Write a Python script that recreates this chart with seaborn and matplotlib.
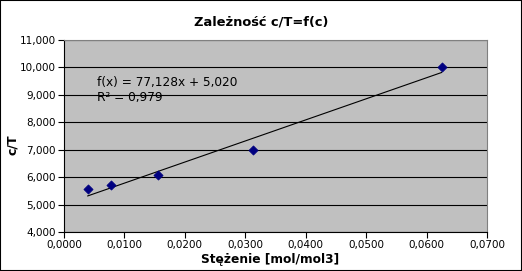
import numpy as np
import pandas as pd
import matplotlib
matplotlib.use("Agg")
import matplotlib.pyplot as plt
import seaborn as sns
from matplotlib.ticker import FuncFormatter, MultipleLocator

conc = [0.0039, 0.0078, 0.0156, 0.03125, 0.0625]
ratio = [5.55, 5.71, 6.08, 7.00, 10.03]
title = "Zależność c/T=f(c)"
xlabel = "Stężenie [mol/mol3]"
ylabel = "c/T"
eq_text = "f(x) = 77,128x + 5,020\nR² = 0,979"

df = pd.DataFrame({"c": conc, "cT": ratio})

sns.set_style("white")
plt.rcParams['font.family'] = ['DejaVu Sans']
plt.rcParams['text.color'] = 'black'
plt.rcParams['axes.labelcolor'] = 'black'
plt.rcParams['xtick.color'] = 'black'
plt.rcParams['ytick.color'] = 'black'

fig = plt.figure(figsize=(5.22, 2.71), dpi=100)
ax = fig.add_axes([64/522, 1 - 232/271, (487-64)/522, (232-40)/271])
ax.set_facecolor("#C0C0C0")

# trend line
k, b = np.polyfit(df["c"], df["cT"], 1)
xs = np.array([min(conc), max(conc)])
ax.plot(xs, k*xs + b, color="black", lw=0.8, zorder=3)

sns.scatterplot(data=df, x="c", y="cT", ax=ax, marker="D", s=22,
                color="#000080", edgecolor="#000080", linewidth=0.5, zorder=4)

ax.set_xlim(0, 0.07)
ax.set_ylim(4, 11)
ax.xaxis.set_major_locator(MultipleLocator(0.01))
ax.yaxis.set_major_locator(MultipleLocator(1))
ax.xaxis.set_major_formatter(FuncFormatter(lambda v, p: f"{v:.4f}".replace(".", ",")))
ax.yaxis.set_major_formatter(FuncFormatter(lambda v, p: f"{v:.3f}".replace(".", ",")))
ax.grid(axis="y", color="black", lw=0.8, zorder=1)
ax.set_axisbelow(True)
ax.tick_params(axis="both", labelsize=7.5, length=4, width=0.8, direction="out",
               bottom=True, left=True, color="black", labelcolor="black", pad=2)
for s in ["top", "right"]:
    ax.spines[s].set_color("#808080")
    ax.spines[s].set_linewidth(0.8)
for s in ["left", "bottom"]:
    ax.spines[s].set_color("black")
    ax.spines[s].set_linewidth(0.8)

ax.set_xlabel(xlabel, fontsize=8.8, fontweight="bold", color="black")
ax.xaxis.set_label_coords((270-64)/(487-64), -(259-232)/(232-40), transform=ax.transAxes)
ax.set_ylabel(ylabel, fontsize=9, fontweight="bold", color="black")
ax.yaxis.set_label_coords(-(64-13)/(487-64), (232-145)/(232-40), transform=ax.transAxes)
ax.xaxis.label.set_va("center")
ax.yaxis.label.set_va("center")
fig.text(261/522, 1 - 22/271, title, ha="center", va="center", fontsize=9.4,
         fontweight="bold", color="black")
ax.text(0.0054, 9.17, eq_text, fontsize=8.7, va="center", ha="left",
        linespacing=1.2, color="black")

fig.add_artist(plt.Rectangle((0, 0), 1, 1, transform=fig.transFigure, fill=False,
                             edgecolor="black", lw=1.5))
fig.savefig("out.png", dpi=100)
